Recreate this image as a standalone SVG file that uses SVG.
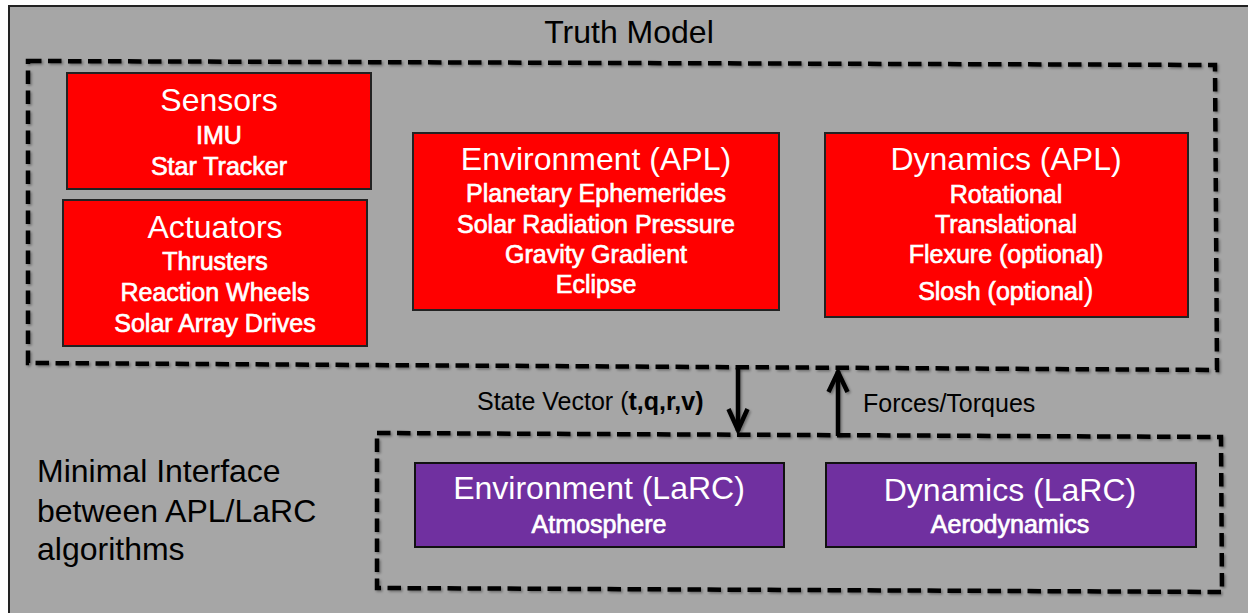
<svg xmlns="http://www.w3.org/2000/svg" width="1248" height="613" viewBox="0 0 1248 613">
  <defs>
    <filter id="sh" x="-5%" y="-5%" width="110%" height="110%">
      <feDropShadow dx="1.5" dy="1.5" stdDeviation="1.2" flood-color="#000" flood-opacity="0.35"/>
    </filter>
    <style>
      .frame { fill: #a6a6a6; stroke: #222; stroke-width: 2; }
      .dash { fill: none; stroke: #000; stroke-width: 4.5; stroke-dasharray: 13.5 6.5; stroke-linejoin: miter; }
      .red { fill: #ff0000; stroke: #222; stroke-width: 2; }
      .purple { fill: #7030a0; stroke: #111; stroke-width: 2; }
      .title { font-family: "Liberation Sans", Arial, sans-serif; font-size: 32px; fill: #fff; text-anchor: middle; }
      .sub { font-family: "Liberation Sans", Arial, sans-serif; font-size: 25px; fill: #fff; stroke: #fff; stroke-width: 0.7; text-anchor: middle; }
      .lbl { font-family: "Liberation Sans", Arial, sans-serif; font-size: 25px; fill: #000; }
      .big { font-family: "Liberation Sans", Arial, sans-serif; font-size: 32px; fill: #000; }
      .arrow { fill: none; stroke: #000; stroke-width: 4.5; stroke-linecap: butt; stroke-linejoin: miter; }
    </style>
  </defs>

  <rect x="0" y="0" width="1248" height="613" fill="#ffffff"/>
  <rect class="frame" x="9" y="6" width="1260" height="620"/>

  <text class="big" x="629" y="43" text-anchor="middle">Truth Model</text>

  <g id="truth-model-boundary" filter="url(#sh)">
    <path class="dash" d="M28,61 L1215,65 L1217,370 L28,363 Z"/>
  </g>
  <g id="interface-boundary" filter="url(#sh)">
    <path class="dash" d="M377,433 L1221,437 L1222,592 L377,588 Z"/>
  </g>

  <g id="sensors">
    <rect class="red" x="67" y="73" width="304" height="116"/>
    <text class="title" x="219" y="111">Sensors</text>
    <text class="sub" x="219" y="144">IMU</text>
    <text class="sub" x="219" y="175">Star Tracker</text>
  </g>

  <g id="actuators">
    <rect class="red" x="63" y="200" width="304" height="146"/>
    <text class="title" x="215" y="238">Actuators</text>
    <text class="sub" x="215" y="270">Thrusters</text>
    <text class="sub" x="215" y="301">Reaction Wheels</text>
    <text class="sub" x="215" y="332">Solar Array Drives</text>
  </g>

  <g id="environment-apl">
    <rect class="red" x="413" y="133" width="366" height="177"/>
    <text class="title" x="596" y="170">Environment (APL)</text>
    <text class="sub" x="596" y="202">Planetary Ephemerides</text>
    <text class="sub" x="596" y="233">Solar Radiation Pressure</text>
    <text class="sub" x="596" y="263">Gravity Gradient</text>
    <text class="sub" x="596" y="293">Eclipse</text>
  </g>

  <g id="dynamics-apl">
    <rect class="red" x="825" y="133" width="363" height="184"/>
    <text class="title" x="1006" y="170">Dynamics (APL)</text>
    <text class="sub" x="1006" y="203">Rotational</text>
    <text class="sub" x="1006" y="233">Translational</text>
    <text class="sub" x="1006" y="263">Flexure (optional)</text>
    <text class="sub" x="1006" y="300">Slosh (optional<tspan stroke-width="0" font-size="31px">)</tspan></text>
  </g>

  <g id="environment-larc">
    <rect class="purple" x="415" y="463" width="369" height="84"/>
    <text class="title" x="599" y="499">Environment (LaRC)</text>
    <text class="sub" x="599" y="533">Atmosphere</text>
  </g>

  <g id="dynamics-larc">
    <rect class="purple" x="826" y="463" width="370" height="84"/>
    <text class="title" x="1010" y="501">Dynamics (LaRC)</text>
    <text class="sub" x="1010" y="533">Aerodynamics</text>
  </g>

  <g id="interface-label">
    <text class="big" x="37" y="482">Minimal Interface</text>
    <text class="big" x="37" y="522">between APL/LaRC</text>
    <text class="big" x="37" y="560">algorithms</text>
  </g>

  <g id="connectors" filter="url(#sh)">
    <g id="state-vector">
      <path class="arrow" d="M738,368 L738,431"/>
      <path class="arrow" d="M728.5,409 L738,430 L747.5,409"/>
    </g>
    <g id="forces-torques">
      <path class="arrow" d="M838,436 L838,371"/>
      <path class="arrow" d="M828.5,392 L838,372 L847.5,392"/>
    </g>
  </g>
  <text class="lbl" x="477" y="410">State Vector (<tspan font-weight="bold">t,q,r,v)</tspan></text>
  <text class="lbl" x="863" y="412">Forces/Torques</text>
</svg>
